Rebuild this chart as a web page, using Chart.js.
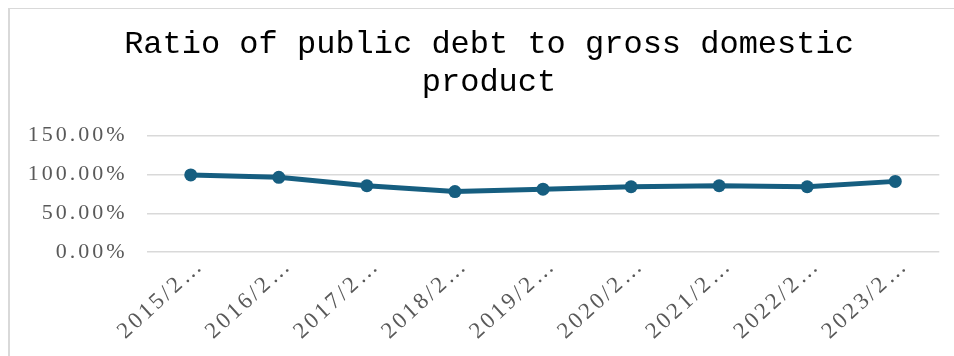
<!DOCTYPE html>
<html>
<head>
<meta charset="utf-8">
<script src="https://cdn.jsdelivr.net/npm/chart.js@4/dist/chart.umd.min.js"></script>
<style>
  html, body { margin: 0; padding: 0; background: #fff; overflow: hidden; width: 954px; height: 356px; }
  #frame {
    position: absolute; left: 8px; top: 8px; width: 980px; height: 400px;
    border-left: 2px solid #d9d9d9; border-top: 1px solid #d9d9d9;
  }
  #chart { position: absolute; left: 0; top: 0; }
</style>
</head>
<body>
<div id="frame"></div>
<canvas id="chart" width="980" height="356"></canvas>
<script>
// data
const categories = ["2015/2…", "2016/2…", "2017/2…", "2018/2…", "2019/2…", "2020/2…", "2021/2…", "2022/2…", "2023/2…"];
const debtRatio = [99.4, 96.3, 85.5, 78.0, 81.1, 84.2, 85.5, 84.2, 91.1];
const yTickLabels = ["0.00%", "50.00%", "100.00%", "150.00%"];

const lineColor = "#165e80";
const tickColor = "#595959";

// wide letter spacing on the axis labels, not on the title
const tickSpacing = {
  id: "tickSpacing",
  afterInit(chart) {
    const tb = chart.titleBlock;
    if (tb) {
      const draw = tb.draw.bind(tb);
      tb.draw = function () {
        const c = chart.ctx;
        const prev = c.letterSpacing;
        c.letterSpacing = "0px";
        draw();
        c.letterSpacing = prev;
      };
    }
  },
  beforeLayout(chart) { chart.ctx.letterSpacing = "3px"; },
  beforeDraw(chart) { chart.ctx.letterSpacing = "3px"; }
};

const ctx = document.getElementById("chart").getContext("2d");

new Chart(ctx, {
  type: "line",
  data: {
    labels: categories,
    datasets: [
      {
        label: "Ratio",
        data: debtRatio,
        borderColor: lineColor,
        backgroundColor: lineColor,
        borderWidth: 5,
        pointRadius: 6.5,
        pointBorderWidth: 0,
        pointBackgroundColor: lineColor,
        tension: 0
      }
    ]
  },
  plugins: [tickSpacing],
  options: {
    responsive: false,
    animation: false,
    layout: { padding: { left: 20, right: 22, top: 0, bottom: 10.7 } },
    plugins: {
      legend: { display: false },
      tooltip: { enabled: false },
      title: {
        display: true,
        text: ["Ratio of public debt to gross domestic", "product"],
        color: "#000",
        font: { family: "'Liberation Mono', 'Courier New', monospace", size: 32, weight: "normal", lineHeight: 1.209 },
        padding: { top: 24.8, bottom: 33.5 }
      }
    },
    scales: {
      x: {
        offset: true,
        grid: { display: false, drawTicks: false },
        border: { display: false },
        ticks: {
          color: tickColor,
          font: { family: "'Liberation Serif', 'Times New Roman', serif", size: 23 },
          minRotation: 42.5,
          maxRotation: 42.5,
          padding: 0,
          labelOffset: 10,
          autoSkip: false
        }
      },
      y: {
        min: 0,
        max: 150,
        afterFit(scale) { scale.width = 126.7; },
        grid: { color: "#d9d9d9", lineWidth: 1.5, drawTicks: false },
        border: { display: false },
        ticks: {
          stepSize: 50,
          color: tickColor,
          padding: 19,
          font: { family: "'Liberation Serif', 'Times New Roman', serif", size: 22 },
          callback: (v, i) => yTickLabels[i]
        }
      },
      // empty right-hand strip so the plot ends where the reference does
      yRight: {
        position: "right",
        min: 0,
        max: 1,
        afterFit(scale) { scale.width = 18.7; },
        grid: { display: false, drawTicks: false },
        border: { display: false },
        ticks: { display: false }
      }
    }
  }
});
</script>
</body>
</html>
